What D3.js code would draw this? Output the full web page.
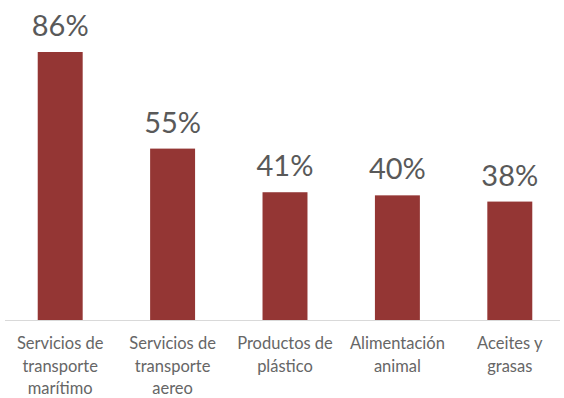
<!DOCTYPE html>
<html>
<head>
<meta charset="utf-8">
<script src="https://cdn.jsdelivr.net/npm/d3@7/dist/d3.min.js"></script>
<style>
  html, body { margin: 0; padding: 0; background: #ffffff; }
  svg { display: block; }
</style>
</head>
<body>
<svg id="chart" width="564" height="398"></svg>
<script>
// Sector shares, in percent
const categories = [
  ["Servicios de", "transporte", "marítimo"],
  ["Servicios de", "transporte", "aereo"],
  ["Productos de", "plástico"],
  ["Alimentación", "animal"],
  ["Aceites y", "grasas"]
];
const values = [86, 55, 41, 40, 38];
const valueLabels = ["86%", "55%", "41%", "40%", "38%"];

const W = 564, H = 398;
const margin = { left: 5, right: 4, top: 52, bottom: 78 };
const baseY = H - margin.bottom;

const svg = d3.select("#chart");

const x = d3.scaleBand()
  .domain(d3.range(values.length))
  .range([4, 566])
  .paddingInner(0.6)
  .paddingOuter(0.3);

const y = d3.scaleLinear()
  .domain([0, 86])
  .range([baseY, margin.top]);

// baseline
svg.append("line")
  .attr("x1", margin.left).attr("x2", W - margin.right)
  .attr("y1", baseY + 0.5).attr("y2", baseY + 0.5)
  .attr("stroke", "#d9d9d9").attr("stroke-width", 1);

svg.selectAll("rect.bar")
  .data(values)
  .join("rect")
  .attr("class", "bar")
  .attr("x", (d, i) => x(i))
  .attr("width", x.bandwidth())
  .attr("y", d => y(d))
  .attr("height", d => baseY - y(d))
  .attr("fill", "#943634");

svg.selectAll("text.val")
  .data(values)
  .join("text")
  .attr("class", "val")
  .attr("x", (d, i) => x(i) + x.bandwidth() / 2)
  .attr("y", d => y(d) - 16)
  .attr("text-anchor", "middle")
  .attr("font-family", "Lato, 'Open Sans', sans-serif")
  .attr("font-size", 29)
  .attr("fill", "#595959")
  .text((d, i) => valueLabels[i]);

const cat = svg.selectAll("text.cat")
  .data(categories)
  .join("text")
  .attr("class", "cat")
  .attr("text-anchor", "middle")
  .attr("font-family", "Lato, 'Open Sans', sans-serif")
  .attr("font-size", 16.5)
  .attr("fill", "#666666");

cat.each(function(lines, i) {
  const t = d3.select(this);
  lines.forEach((line, j) => {
    t.append("tspan")
      .attr("x", x(i) + x.bandwidth() / 2)
      .attr("y", baseY + 29 + j * 22.5)
      .text(line);
  });
});
</script>
</body>
</html>
